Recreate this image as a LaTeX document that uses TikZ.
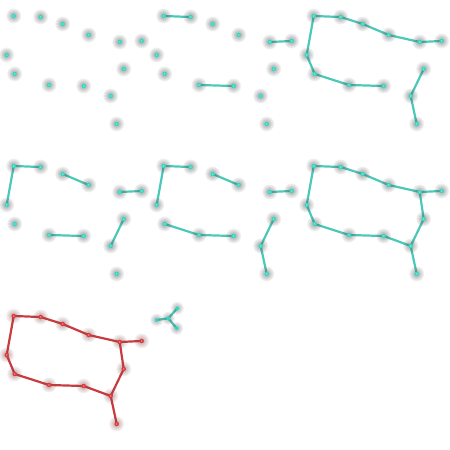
\documentclass[tikz,border=0pt]{standalone}
\definecolor{dotcyan}{HTML}{34D6C2}
\definecolor{linkcyan}{HTML}{4CC8B8}
\definecolor{dotred}{HTML}{E0383A}
\definecolor{linkred}{HTML}{C93B3E}
\begin{document}
\begin{tikzpicture}[x=1pt, y=-1pt,
  cyanlink/.style={draw=linkcyan, line width=2.2pt, line cap=round, line join=round},
  redlink/.style={draw=linkred, line width=2.2pt, line cap=round, line join=round},
  halo/.style={fill=#1, fill opacity=0.08},
  core/.style={fill=#1}]
\useasboundingbox (0,0) rectangle (450,450);
\foreach \pn/\ox/\oy in {p1/0/0, p2/150/0, p3/300/0, p4/0/150, p5/150/150, p6/300/150, p7/0/300}
  \foreach \n/\x/\y in {a/13.7/16, b/40.7/17, c/62.7/24, d/88.7/35, e/119.7/42, f/141.7/41,
                        g/6.7/55, h/14.7/74, i/49/85, j/83.7/86, k/123.7/69, l/110.7/96, m/116.7/124}
    \coordinate (\pn\n) at (\x+\ox, \y+\oy);
\coordinate (t0) at (168.3, 318.3);
\coordinate (t1) at (177.3, 308.3);
\coordinate (t2) at (156.7, 320);
\coordinate (t3) at (176.7, 328.3);
\draw[cyanlink] (p2a) -- (p2b) (p2e) -- (p2f) (p2i) -- (p2j);
\draw[cyanlink] (p3f) -- (p3e) -- (p3d) -- (p3c) -- (p3b) -- (p3a) -- (p3g) -- (p3h) -- (p3i) -- (p3j)
  (p3k) -- (p3l) -- (p3m);
\draw[cyanlink] (p4g) -- (p4a) -- (p4b) (p4c) -- (p4d) (p4e) -- (p4f) (p4i) -- (p4j) (p4k) -- (p4l);
\draw[cyanlink] (p5g) -- (p5a) -- (p5b) (p5c) -- (p5d) (p5e) -- (p5f) (p5h) -- (p5i) -- (p5j)
  (p5k) -- (p5l) -- (p5m);
\draw[cyanlink] (p6a) -- (p6b) -- (p6c) -- (p6d) -- (p6e) -- (p6k) -- (p6l) -- (p6j) -- (p6i) -- (p6h)
  -- (p6g) -- (p6a) (p6e) -- (p6f) (p6l) -- (p6m);
\draw[redlink] (p7a) -- (p7b) -- (p7c) -- (p7d) -- (p7e) -- (p7k) -- (p7l) -- (p7j) -- (p7i) -- (p7h)
  -- (p7g) -- (p7a) (p7e) -- (p7f) (p7l) -- (p7m);
\draw[cyanlink] (t0) -- (t1) (t0) -- (t2) (t0) -- (t3);
\foreach \pn/\dc/\hc in {p1/dotcyan/black!70, p2/dotcyan/black!70, p3/dotcyan/black!70, p4/dotcyan/black!70,
                         p5/dotcyan/black!70, p6/dotcyan/black!70, p7/dotred/red!30!black!70}
  \foreach \n in {a, b, c, d, e, f, g, h, i, j, k, l, m} {
    \foreach \r in {7.5, 6.5, 5.5, 4.6, 3.8} \fill[halo=\hc] (\pn\n) circle (\r);
    \fill[core=\dc] (\pn\n) circle (2.3);
    \fill[white, opacity=0.4] (\pn\n) circle (0.9);
  }
\foreach \n in {t0, t1, t2, t3} {
  \foreach \r in {6.5, 5.5, 4.5, 3.6} \fill[halo=black!70] (\n) circle (\r);
  \fill[core=dotcyan] (\n) circle (2);
}
\end{tikzpicture}
\end{document}
